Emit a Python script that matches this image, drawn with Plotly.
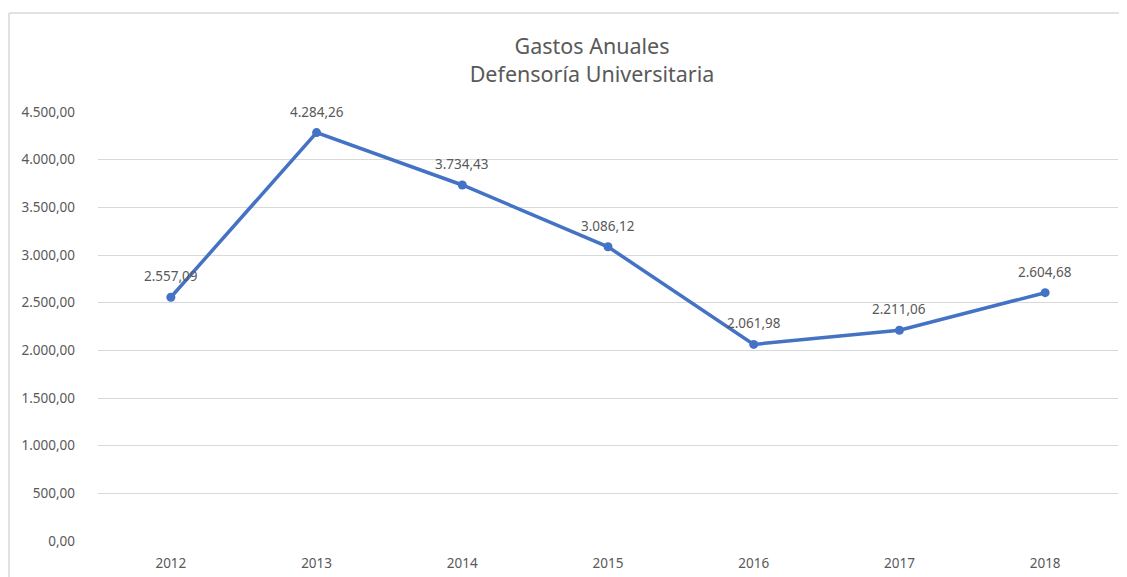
import plotly.graph_objects as go

# Data
years = ["2012", "2013", "2014", "2015", "2016", "2017", "2018"]
gastos = [2557.09, 4284.26, 3734.43, 3086.12, 2061.98, 2211.06, 2604.68]
y_ticks = [0, 500, 1000, 1500, 2000, 2500, 3000, 3500, 4000, 4500]


def fmt_es(v):
    # Spanish number format: 4.284,26
    s = f"{v:,.2f}"
    return s.replace(",", "X").replace(".", ",").replace("X", ".")


FONT = "Noto Sans"
GRAY = "#595959"
BLUE = "#4472C4"

fig = go.Figure()
fig.add_trace(go.Scatter(
    x=years,
    y=gastos,
    mode="lines+markers",
    line=dict(color=BLUE, width=3.5),
    marker=dict(color=BLUE, size=9),
    hoverinfo="x+y",
))

# Data labels above each point (category index as x)
for i, y in enumerate(gastos):
    fig.add_annotation(x=i, y=y, text=fmt_es(y), showarrow=False,
                       yshift=21, font=dict(family=FONT, size=13.5, color=GRAY))

# Chart area border (Excel style): only top and left edges are in view.
# The page body adds an 8px offset.
W, H = 1127, 577
L, R, T, B = 90, 17, 104, 44
pw, ph = W - L - R, H - T - B
bx0, bx1 = (1 - L) / pw, (1126 - L) / pw
by0, by1 = -(B + 20) / ph, 1 + (T - 5) / ph
border = dict(color="#d9d9d9", width=1.5)
fig.add_shape(type="line", xref="paper", yref="paper",
              x0=bx0, x1=bx1, y0=by1, y1=by1, line=border, layer="below")
fig.add_shape(type="line", xref="paper", yref="paper",
              x0=bx0, x1=bx0, y0=by0, y1=by1, line=border, layer="below")

fig.update_layout(
    width=W, height=H,
    margin=dict(l=L, r=R, t=T, b=B),
    paper_bgcolor="white",
    plot_bgcolor="white",
    showlegend=False,
    title=dict(text="Gastos Anuales<br>Defensoría Universitaria",
               x=584 / W, xanchor="center", y=0.921, yanchor="middle",
               font=dict(family=FONT, size=21.5, color=GRAY)),
    font=dict(family=FONT, color=GRAY),
)
fig.update_xaxes(type="category", range=[-0.5, 6.5], showgrid=False,
                 showline=False, ticks="", zeroline=False, ticklabelstandoff=12,
                 tickfont=dict(family=FONT, size=13.5, color=GRAY))
fig.update_yaxes(range=[0, 4500], tickvals=y_ticks,
                 ticktext=[fmt_es(v) for v in y_ticks],
                 showgrid=True, gridcolor="#d9d9d9", gridwidth=1.2,
                 zeroline=False, showline=False, ticks="", ticklabelstandoff=22,
                 tickfont=dict(family=FONT, size=13.5, color=GRAY))

fig.write_html("out.html")
